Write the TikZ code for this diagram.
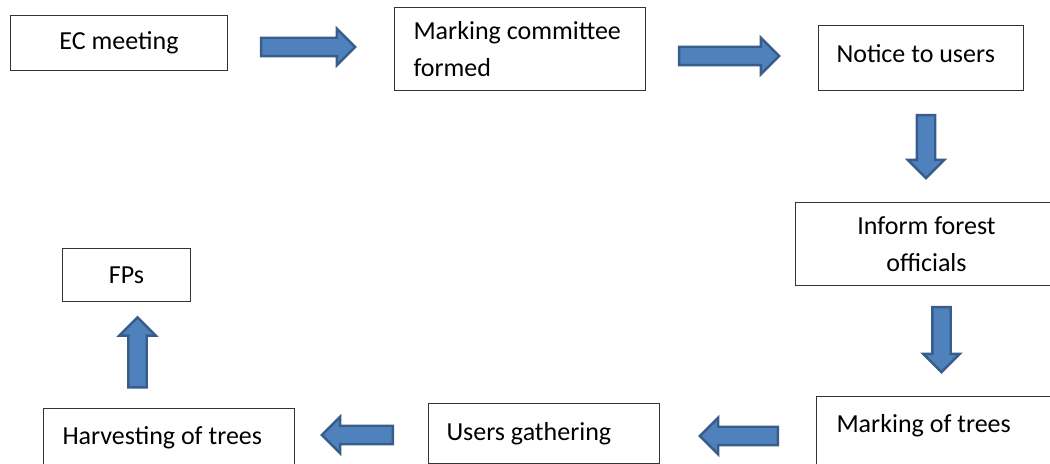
\documentclass[tikz,border=0pt]{standalone}
\usepackage{fontspec}
\setmainfont{Carlito}
\usepackage{tikz}
\usetikzlibrary{shapes.arrows, positioning}
\definecolor{flecharelleno}{RGB}{79,129,189}
\definecolor{flechaborde}{RGB}{56,93,138}
\newcommand\etfont{\fontsize{13}{18.5}\selectfont\hyphenpenalty=10000 }
\tikzset{
  etapa/.style={rectangle, draw=black!80, line width=0.5pt, fill=white,
    anchor=north west, align=center, inner sep=0pt, font=\etfont},
  etapai/.style={etapa, align=flush left, inner xsep=9.5pt},
  corte/.style={text height=9pt, text depth=18.4pt, minimum height=45pt},
  flechab/.style={single arrow, draw=flechaborde, fill=flecharelleno,
    line width=1.2pt, inner sep=4pt, single arrow head extend=4.5pt,
    single arrow tip angle=90, minimum height=#1}
}

\begin{document}
\begin{tikzpicture}[x=0.5pt, y=-0.5pt]
  \useasboundingbox (0,0) rectangle (1050,464);
  \clip (0,0) rectangle (1050,464);
  % etapas
  \node[etapa, minimum width=108.5pt, minimum height=27.5pt] (ec) at (10,15) {EC meeting};
  \node[etapai, text width=106.5pt, minimum height=41.5pt] (comite) at (394,7)
    {Marking committee\\formed};
  \node[etapai, inner xsep=9pt, text width=84.5pt, minimum height=32.5pt,
    text height=9pt, text depth=4.9pt] (aviso) at (818,25) {Notice to users};
  \node[etapa, minimum width=131pt, minimum height=41.5pt] (oficiales) at (795,202)
    {Inform forest\\officials};
  \node[etapai, inner xsep=10pt, text width=110pt, corte] (marcado) at (816,396)
    {Marking of trees};
  \node[etapai, inner xsep=9pt, text width=97.5pt, minimum height=30pt] (reunion) at (428,403)
    {Users gathering};
  \node[etapai, text width=106.5pt, corte] (cosecha) at (43,408) {Harvesting of trees};
  \node[etapa, minimum width=64pt, minimum height=26.5pt] (fps) at (62,248) {FPs};
  % flechas de bloque
  \node[flechab=47pt] (f1) at (303.5,47) {};
  \node[flechab=50pt] (f2) at (724.5,56) {};
  \node[flechab=31.5pt, rotate=-90] (f3) at (926,142) {};
  \node[flechab=32.5pt, rotate=-90] (f4) at (941.5,335) {};
  \node[flechab=39pt, rotate=180] (f5) at (743.5,436) {};
  \node[flechab=35.5pt, rotate=180] (f6) at (362,435) {};
  \node[flechab=35pt, rotate=90] (f7) at (137.5,357) {};
\end{tikzpicture}
\end{document}
